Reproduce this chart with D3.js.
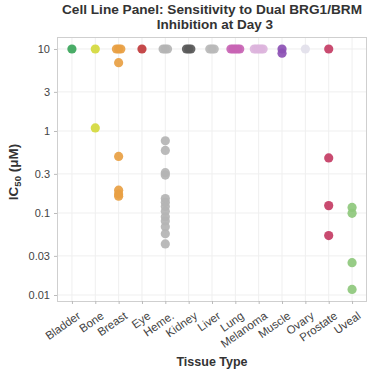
<!DOCTYPE html>
<html><head><meta charset="utf-8">
<script src="https://cdn.jsdelivr.net/npm/d3@7"></script>
<style>body{margin:0;background:#fff}svg{display:block}</style>
</head><body><svg id="c" width="371" height="371"></svg>
<script>
const categories = ["Bladder","Bone","Breast","Eye","Heme.","Kidney","Liver","Lung","Melanoma","Muscle","Ovary","Prostate","Uveal"];
const colors = ["#3aa55a","#d4d93c","#e8a043","#c0393b","#b4b4b4","#5a5a5a","#b8b8b8","#c864b4","#dcb4dc","#8c50b4","#e2dfea","#c43c64","#8ec87c"];
const values = [
  [10],
  [10, 1.09],
  [10, 10, 10, 6.8, 0.49, 0.19, 0.17, 0.16],
  [10],
  [10, 10, 10, 0.76, 0.58, 0.31, 0.29, 0.15, 0.135, 0.12, 0.105, 0.09, 0.08, 0.068, 0.056, 0.042],
  [10, 10, 10],
  [10, 10, 10],
  [10, 10, 10, 10, 10],
  [10, 10, 10, 10, 10],
  [10, 8.9],
  [10],
  [10, 0.47, 0.123, 0.053],
  [0.117, 0.099, 0.0248, 0.0117]
];
const yTicks = [10, 3, 1, 0.3, 0.1, 0.03, 0.01];

const svg = d3.select("#c");
const m = {l:57, r:4, t:37, b:70};
const W = 371, H = 371;
const x = d3.scalePoint().domain(categories).range([m.l, W - m.r]).padding(0.64);
const y = d3.scaleLog().domain([0.00845, 14]).range([H - m.b, m.t]);
const font = "'Liberation Sans', Arial, sans-serif";

// grid
const g = svg.append("g");
g.selectAll("line.vg").data(categories).join("line")
  .attr("x1", d => x(d)).attr("x2", d => x(d)).attr("y1", m.t).attr("y2", H - m.b)
  .attr("stroke", "#efefef").attr("stroke-width", 1);
g.selectAll("line.hg").data(yTicks).join("line")
  .attr("x1", m.l).attr("x2", W - m.r).attr("y1", d => y(d)).attr("y2", d => y(d))
  .attr("stroke", "#efefef").attr("stroke-width", 1);

// frame
svg.append("rect").attr("x", m.l + 0.5).attr("y", m.t + 0.5)
  .attr("width", W - m.r - m.l - 1).attr("height", H - m.b - m.t)
  .attr("fill", "none").attr("stroke", "#cfcfcf");

// axes
const yAxis = d3.axisLeft(y).tickValues(yTicks).tickFormat(d => String(d)).tickSize(3).tickPadding(4);
const ya = svg.append("g").attr("transform", `translate(${m.l},0)`).call(yAxis);
ya.select(".domain").remove();
ya.selectAll(".tick line").attr("stroke", "#bbb");
ya.selectAll(".tick text").attr("fill", "#444").style("font", `11px ${font}`);

const xAxis = d3.axisBottom(x).tickSize(3).tickPadding(4);
const xa = svg.append("g").attr("transform", `translate(0,${H - m.b})`).call(xAxis);
xa.select(".domain").remove();
xa.selectAll(".tick line").attr("stroke", "#bbb");
xa.selectAll(".tick text").attr("fill", "#444")
  .style("font", `11.5px ${font}`)
  .attr("text-anchor", "end").attr("dy", "0.3em")
  .attr("transform", "translate(3,8) rotate(-35)");

// points
const pts = [];
categories.forEach((c, i) => {
  const counts = d3.rollup(values[i], v => v.length, v => v);
  const seen = new Map();
  values[i].forEach(v => {
    const n = counts.get(v), k = seen.get(v) || 0; seen.set(v, k + 1);
    pts.push({c, v, col: colors[i], off: (k - (n - 1) / 2) * 2.2});
  });
});
svg.append("g").selectAll("circle").data(pts).join("circle")
  .attr("cx", d => x(d.c) + d.off).attr("cy", d => y(d.v)).attr("r", 4.6)
  .attr("fill", d => d.col).attr("fill-opacity", 0.92);

// titles
const tf = `bold 13.5px ${font}`;
svg.append("text").attr("x", 212).attr("y", 14).attr("text-anchor", "middle")
  .attr("textLength", 300).attr("lengthAdjust", "spacingAndGlyphs")
  .style("font", tf).attr("fill", "#333").text("Cell Line Panel: Sensitivity to Dual BRG1/BRM");
svg.append("text").attr("x", 215).attr("y", 29).attr("text-anchor", "middle")
  .style("font", tf).attr("fill", "#333").text("Inhibition at Day 3");
svg.append("text").attr("x", 212).attr("y", 366).attr("text-anchor", "middle")
  .style("font", `bold 12.5px ${font}`).attr("fill", "#333").text("Tissue Type");
const yl = svg.append("text").attr("transform", "translate(18,172) rotate(-90)").attr("text-anchor", "middle")
  .style("font", `bold 13.5px ${font}`).attr("fill", "#333");
yl.append("tspan").text("IC");
yl.append("tspan").attr("dy", 3).style("font-size", "9.5px").text("50");
yl.append("tspan").attr("dy", -3).text(" (μM)");
</script></body></html>
